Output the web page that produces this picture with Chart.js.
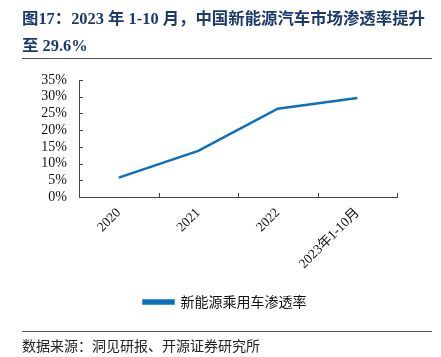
<!DOCTYPE html>
<html><head><meta charset="utf-8">
<script src="https://cdn.jsdelivr.net/npm/chart.js@4/dist/chart.umd.min.js"></script>
<style>
html,body{margin:0;padding:0;background:#fff;width:441px;height:357px;overflow:hidden;}
#wrap{position:absolute;left:0;top:0;width:441px;height:357px;}
#title{position:absolute;left:22px;top:5px;width:415px;font:bold 16.4px "Liberation Serif","Noto Sans CJK SC",serif;color:#1c3a6e;line-height:27px;white-space:nowrap;}
.rule{position:absolute;left:22px;width:410px;height:0;border-top:1px solid #555;}
#foot{position:absolute;left:22px;top:335px;font:14px "Noto Sans CJK SC","Liberation Serif",sans-serif;color:#222;white-space:nowrap;}
</style></head>
<body>
<div id="wrap"><canvas id="c" width="441" height="357"></canvas></div>
<div id="title">图17：2023 年 1-10 月，中国新能源汽车市场渗透率提升<br>至 29.6%</div>
<div class="rule" style="top:58px"></div>
<div class="rule" style="top:331px"></div>
<div id="foot">数据来源：洞见研报、开源证券研究所</div>
<script>
const categories = ["2020", "2021", "2022", "2023年1-10月"];
const penetration = [5.8, 13.8, 26.4, 29.6];
const seriesName = "新能源乘用车渗透率";
const yTicks = [0, 5, 10, 15, 20, 25, 30, 35];

const FONT = '"Liberation Serif","Noto Sans CJK SC",serif';

const innerTicks = {
  id: 'innerTicks',
  afterDraw(chart) {
    const ctx = chart.ctx;
    const x = chart.scales.x, y = chart.scales.y;
    ctx.save();
    ctx.strokeStyle = '#444';
    ctx.lineWidth = 1;
    const n = categories.length;
    const w = (x.right - x.left) / n;
    ctx.beginPath();
    for (let i = 1; i <= n; i++) {
      const px = Math.round(x.left + i * w) + 0.5;
      ctx.moveTo(px, y.bottom); ctx.lineTo(px, y.bottom - 4);
    }
    yTicks.forEach(v => {
      const py = Math.round(y.getPixelForValue(v)) + 0.5;
      ctx.moveTo(x.left, py); ctx.lineTo(x.left + 4, py);
    });
    ctx.stroke();
    ctx.restore();
  }
};

new Chart(document.getElementById('c'), {
  type: 'line',
  data: {
    labels: categories,
    datasets: [{
      label: seriesName,
      data: penetration,
      borderColor: '#0a70c0',
      backgroundColor: '#0a70c0',
      borderWidth: 2.5,
      pointRadius: 0,
      tension: 0,
      yAxisID: 'y'
    }]
  },
  options: {
    responsive: false,
    animation: false,
    layout: { padding: { left: 9, right: 0, top: 80, bottom: 38 } },
    plugins: {
      legend: {
        position: 'bottom',
        labels: { boxWidth: 30, boxHeight: 3, color: '#111', padding: 10,
          font: { family: '"Noto Sans CJK SC",sans-serif', size: 14 } }
      },
      tooltip: { enabled: false }
    },
    scales: {
      x: {
        offset: true,
        grid: { display: false, drawTicks: false },
        border: { display: true, color: '#444', width: 1 },
        ticks: { color: '#111', font: { family: FONT, size: 13.5 }, maxRotation: 45, minRotation: 45, padding: 8, autoSkip: false },
        afterFit(s) { s.height = 88; }
      },
      y: {
        min: 0, max: 35,
        grid: { display: false, drawTicks: false },
        border: { display: true, color: '#444', width: 1 },
        ticks: { stepSize: 5, color: '#111', padding: 12, autoSkip: false,
          font: { family: FONT, size: 14 },
          callback: v => v + '%' },
        afterFit(s) { s.width = 70; }
      },
      y2: {
        position: 'right',
        min: 0, max: 35,
        grid: { display: false, drawTicks: false },
        border: { display: false },
        ticks: { display: false },
        afterFit(s) { s.width = 44; }
      }
    }
  },
  plugins: [innerTicks]
});
</script>
</body></html>
